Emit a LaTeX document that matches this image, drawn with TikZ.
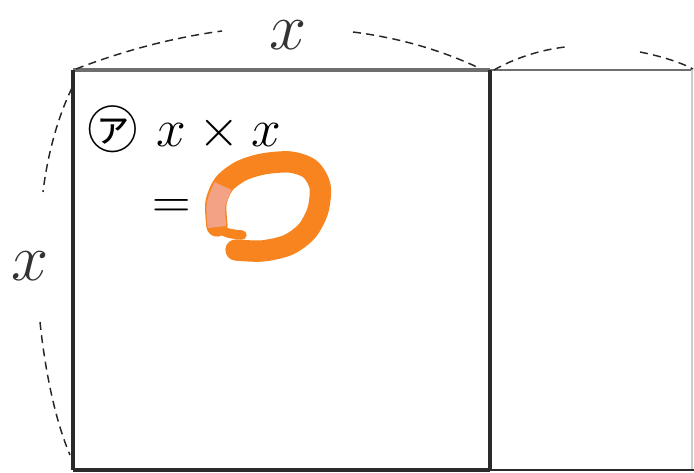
\documentclass[tikz,border=0pt]{standalone}
\usepackage{fix-cm}
\usepackage{fontspec}
\newfontfamily\cjkfont{Noto Sans CJK JP}
\definecolor{edgedark}{HTML}{2A2A2A}
\definecolor{edgegray}{HTML}{6E6E6E}
\definecolor{markorange}{HTML}{F7841E}
\definecolor{marksalmon}{HTML}{F3A286}
\tikzset{
  dimdash/.style={line width=1.1pt, dash pattern=on 6pt off 4pt, black!85},
  bigx/.style={inner sep=0pt, font=\fontsize{50}{50}\selectfont, text=black!80},
  eqtext/.style={inner sep=0pt, font=\fontsize{40}{40}\selectfont},
}
\begin{document}
\begin{tikzpicture}[x=0.75pt,y=-0.75pt]
\useasboundingbox (0,0) rectangle (694,473);
% corners
\coordinate (tl) at (73,70);
\coordinate (tr) at (490,70);
\coordinate (bl) at (73,470);
\coordinate (br) at (490,470);
\coordinate (rtr) at (692,70);
\coordinate (rbr) at (692,470);
% right rectangle
\draw[edgegray, line width=1.4pt] (tr) -- (rtr);
\draw[black!20, line width=0.8pt] (rtr) -- (rbr);
\draw[edgedark, line width=2.2pt] (br) -- (694,470);
% square
\draw[edgegray, line width=3pt] (tl) -- (tr);
\draw[edgedark, line width=3pt] (tl) -- (bl);
\draw[edgedark, line width=3pt] (tr) -- (br);
\draw[edgedark, line width=2.4pt] (bl) -- (br);
% dimension labels
\node[bigx] (xtop) at (288,35) {$x$};
\node[bigx] (xleft) at (30,266) {$x$};
% top dashed arc
\draw[dimdash] (76,69) .. controls (120,52) and (170,38) .. (222,31);
\draw[dimdash] (353,32) .. controls (400,38) and (440,50) .. (477,67);
% right partial dashed arc
\draw[dimdash] (494,70) .. controls (515,58) and (540,50) .. (565,47);
\draw[dimdash] (640,52) .. controls (660,56) and (680,62) .. (693,69);
% left dashed arc
\draw[dimdash] (72,88) .. controls (60,112) and (48,150) .. (43,192);
\draw[dimdash] (40,322) .. controls (45,370) and (55,420) .. (70,455);
% texts
\node[inner sep=0pt, font=\cjkfont\fontsize{38}{38}\selectfont] (label) at (113,129) {㋐};
\node[eqtext, anchor=base] (expr) at (219,147) {$x\times x$};
\node[eqtext, anchor=base] (eq) at (172,219) {$=$};
% orange answer mark
\draw[markorange, line width=16pt, line cap=round, line join=round]
  plot[smooth] coordinates {(217,226) (216,203) (224,184) (241,171) (263,164) (290,162) (310,169) (320,186) (318,210) (307,231) (288,245) (262,251) (236,250)};
\draw[markorange, line width=7pt, line cap=round]
  plot[smooth] coordinates {(214,226) (228,233) (242,235)};
\draw[marksalmon, line width=14pt, line cap=butt]
  plot[smooth] coordinates {(217,227) (216,205) (223,186)};
\end{tikzpicture}
\end{document}
